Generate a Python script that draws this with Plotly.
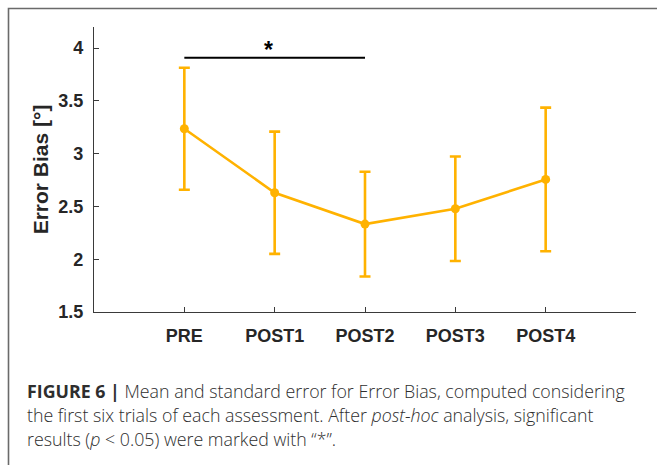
import plotly.graph_objects as go

# ---- data ----
categories = ["PRE", "POST1", "POST2", "POST3", "POST4"]
mean_bias = [3.236, 2.630, 2.333, 2.478, 2.756]
se_bias = [0.578, 0.579, 0.496, 0.495, 0.680]
y_ticks = [1.5, 2, 2.5, 3, 3.5, 4]
y_tick_labels = ["1.5", "2", "2.5", "3", "3.5", "4"]
sig_pair = ["PRE", "POST2"]
sig_level = 3.908
sig_label = "*"

caption_lines = [
    "<b>FIGURE 6 |</b> Mean and standard error for Error Bias, computed considering",
    "the first six trials of each assessment. After <i>post-hoc</i> analysis, significant",
    "results (<i>p</i> &lt; 0.05) were marked with \u201c*\u201d.",
]

# ---- layout geometry (pixels) ----
W, H = 657, 465
L, R, T, B = 94, 636, 27, 312
ORANGE = "#FFB200"
DARK = "#262626"

xpos = list(range(1, len(categories) + 1))


def px_x(px):
    return (px - L) / (R - L)


def px_y(py):
    return (B - py) / (B - T)


fig = go.Figure()
fig.add_trace(go.Scatter(
    x=xpos, y=mean_bias, mode="lines+markers",
    line=dict(color=ORANGE, width=2.6),
    marker=dict(color=ORANGE, size=9),
    error_y=dict(type="data", array=se_bias, visible=True,
                 color=ORANGE, thickness=2.6, width=5.5),
    showlegend=False, hoverinfo="skip",
))

sx = [categories.index(c) + 1 for c in sig_pair]
fig.add_trace(go.Scatter(
    x=sx, y=[sig_level, sig_level], mode="lines",
    line=dict(color="black", width=2), showlegend=False, hoverinfo="skip",
))
fig.add_annotation(x=(sx[0] + sx[1]) / 2 - 0.07, y=sig_level, yshift=8,
                   text="<b>" + sig_label + "</b>", showarrow=False,
                   font=dict(size=23, color="black", family="Liberation Sans"))

# caption
caption_centers = [391, 415, 439]
for line, cy in zip(caption_lines, caption_centers):
    fig.add_annotation(xref="paper", yref="paper", x=px_x(25), y=px_y(cy),
                       xanchor="left", yanchor="middle", text=line,
                       showarrow=False, align="left",
                       font=dict(size=17.8, color="#2e2e2e", family="Open Sans",
                                 weight=300))

# figure border
fig.add_shape(type="rect", xref="paper", yref="paper",
              x0=px_x(8.5), x1=px_x(700), y0=px_y(8.5), y1=px_y(520),
              line=dict(color="#6a6a6a", width=1.6), layer="below")

fig.update_layout(
    width=W, height=H,
    margin=dict(l=L, r=W - R, t=T, b=H - B, pad=0),
    paper_bgcolor="white", plot_bgcolor="white",
    font=dict(family="Liberation Sans", color=DARK),
    xaxis=dict(range=[0, len(categories) + 1], tickvals=xpos, ticktext=categories,
               showgrid=False, zeroline=False, showline=True, linecolor="#3a3a3a",
               linewidth=1.2, ticks="inside", ticklen=5, tickcolor="#3a3a3a",
               tickfont=dict(size=18, color=DARK, family="Liberation Sans", weight="bold"),
               ticklabelstandoff=7),
    yaxis=dict(range=[1.5, 4.2], tickvals=y_ticks, ticktext=y_tick_labels,
               showgrid=False, zeroline=False, showline=True, linecolor="#3a3a3a",
               linewidth=1.2, ticks="inside", ticklen=5, tickcolor="#3a3a3a",
               tickfont=dict(size=18, color=DARK, family="Liberation Sans", weight="bold"),
               ticklabelstandoff=6,
               title=dict(text="<b>Error Bias [°]</b>", standoff=3,
                          font=dict(size=21, color=DARK, family="Liberation Sans"))),
)

fig.write_html("out.html")
